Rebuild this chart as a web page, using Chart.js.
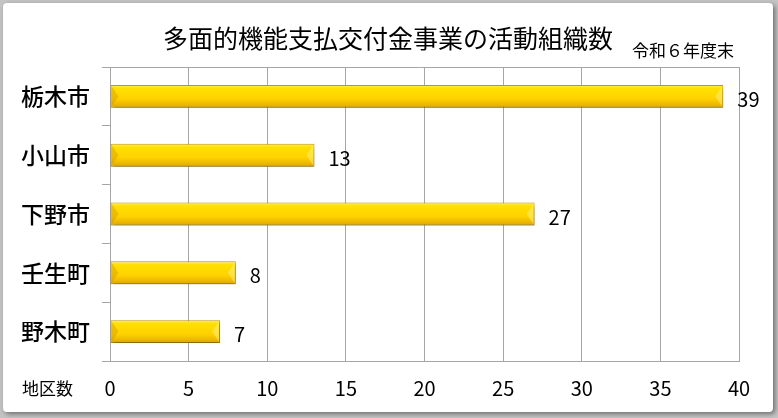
<!DOCTYPE html>
<html><head><meta charset="utf-8">
<script src="https://cdn.jsdelivr.net/npm/chart.js@4/dist/chart.umd.min.js"></script>
<style>
html,body{margin:0;padding:0;background:#c4c4c4;}
#wrap{width:778px;height:418px;position:relative;}
</style></head>
<body><div id="wrap"><canvas id="c" width="778" height="418"></canvas></div>
<script>
const categories = ["栃木市","小山市","下野市","壬生町","野木町"];
const values = [39, 13, 27, 8, 7];
const xTicks = [0,5,10,15,20,25,30,35,40];
const titleText = "多面的機能支払交付金事業の活動組織数";
const subtitleText = "令和６年度末";
const axisUnitText = "地区数";

const FONT = "'Noto Sans CJK JP','Noto Sans',sans-serif";
const BAR_PCT = 0.39;

function barGradient(c){
  const chart = c.chart;
  if(!chart.chartArea) return '#FFD400';
  const y = chart.scales.y;
  const yc = y.getPixelForValue(c.dataIndex);
  const band = (y.bottom - y.top)/categories.length;
  const h = band*BAR_PCT;
  const g = chart.ctx.createLinearGradient(0, yc-h/2, 0, yc+h/2);
  g.addColorStop(0, '#FFF06A');
  g.addColorStop(0.15, '#FFE000');
  g.addColorStop(0.6, '#FFD200');
  g.addColorStop(0.85, '#EDB800');
  g.addColorStop(1, '#D9A400');
  return g;
}

const framePlugin = {
  id:'frame',
  beforeDraw(chart){
    const ctx = chart.ctx;
    ctx.save();
    ctx.fillStyle = '#c4c4c4';
    ctx.fillRect(0,0,chart.width,chart.height);
    ctx.shadowColor = 'rgba(0,0,0,0.45)';
    ctx.shadowBlur = 5;
    ctx.shadowOffsetX = 2;
    ctx.shadowOffsetY = 2;
    ctx.fillStyle = '#ffffff';
    ctx.beginPath();
    if (ctx.roundRect) ctx.roundRect(3,3,770,409,4); else ctx.rect(3,3,770,409);
    ctx.fill();
    ctx.restore();
  },
  beforeDatasetsDraw(chart){
    const ctx = chart.ctx;
    ctx.save();
    ctx.shadowColor = 'rgba(0,0,0,0.35)';
    ctx.shadowBlur = 4;
    ctx.shadowOffsetX = 1;
    ctx.shadowOffsetY = 3;
  },
  afterDatasetsDraw(chart){
    const ctx = chart.ctx;
    ctx.restore();
    const meta = chart.getDatasetMeta(0);
    ctx.save();
    meta.data.forEach(el=>{
      const t = el.y - el.height/2, b = el.y + el.height/2, l = el.base, r = el.x;
      const d = el.height/2;
      ctx.fillStyle = 'rgba(200,140,0,0.35)';
      ctx.beginPath(); ctx.moveTo(l+1,t+1); ctx.lineTo(l+d*0.7,el.y); ctx.lineTo(l+1,b-1); ctx.closePath(); ctx.fill();
      ctx.fillStyle = 'rgba(255,245,150,0.45)';
      ctx.beginPath(); ctx.moveTo(r-1,t+1); ctx.lineTo(r-d*0.7,el.y); ctx.lineTo(r-1,b-1); ctx.closePath(); ctx.fill();
    });
    ctx.fillStyle = '#000';
    ctx.font = "20px " + FONT;
    ctx.textBaseline = 'middle';
    ctx.textAlign = 'left';
    meta.data.forEach((el,i)=>{ ctx.fillText(String(values[i]), el.x + 14, el.y + 3); });
    ctx.restore();
  },
  afterDraw(chart){
    const ctx = chart.ctx, a = chart.chartArea;
    ctx.save();
    ctx.strokeStyle = '#a6a6a6';
    ctx.lineWidth = 1;
    ctx.beginPath(); ctx.moveTo(a.left-8, a.top+0.5); ctx.lineTo(a.right, a.top+0.5); ctx.stroke();
    ctx.fillStyle = '#000';
    ctx.textBaseline = 'middle';
    ctx.font = "25px " + FONT;
    ctx.textAlign = 'center';
    ctx.fillText(titleText, 388, 38);
    ctx.font = "17px " + FONT;
    ctx.textAlign = 'right';
    ctx.fillText(subtitleText, 734, 51);
    ctx.font = "17px " + FONT;
    ctx.textAlign = 'left';
    ctx.fillText(axisUnitText, 22, 389);
    ctx.restore();
  }
};

new Chart(document.getElementById('c'), {
  type:'bar',
  data:{ labels:categories, datasets:[{ data:values, backgroundColor:barGradient, borderColor:'#C99A00', borderWidth:1, borderSkipped:false, categoryPercentage:1, barPercentage:BAR_PCT }]},
  options:{
    indexAxis:'y', responsive:false, animation:false,
    devicePixelRatio:1,
    layout:{ padding:{ left:0, right:39, top:67, bottom:0 } },
    plugins:{ legend:{display:false}, tooltip:{enabled:false}, title:{display:false} },
    scales:{
      x:{ min:0, max:40, afterBuildTicks(s){ s.ticks = xTicks.map(v=>({value:v})); },
        grid:{ color:'#a6a6a6', drawTicks:false, lineWidth:1 },
        border:{ color:'#a6a6a6' },
        ticks:{ color:'#000', padding:15, font:{ size:20, family:FONT } },
        afterFit(s){ s.height = 57; }
      },
      y:{ grid:{ display:true, drawOnChartArea:false, tickLength:8, color:'#a6a6a6', offset:true },
        border:{ color:'#a6a6a6' },
        ticks:{ color:'#000', padding:12, font:{ size:23, family:FONT, weight:'500' } },
        afterFit(s){ s.width = 110; }
      }
    }
  },
  plugins:[framePlugin]
});
</script></body></html>
